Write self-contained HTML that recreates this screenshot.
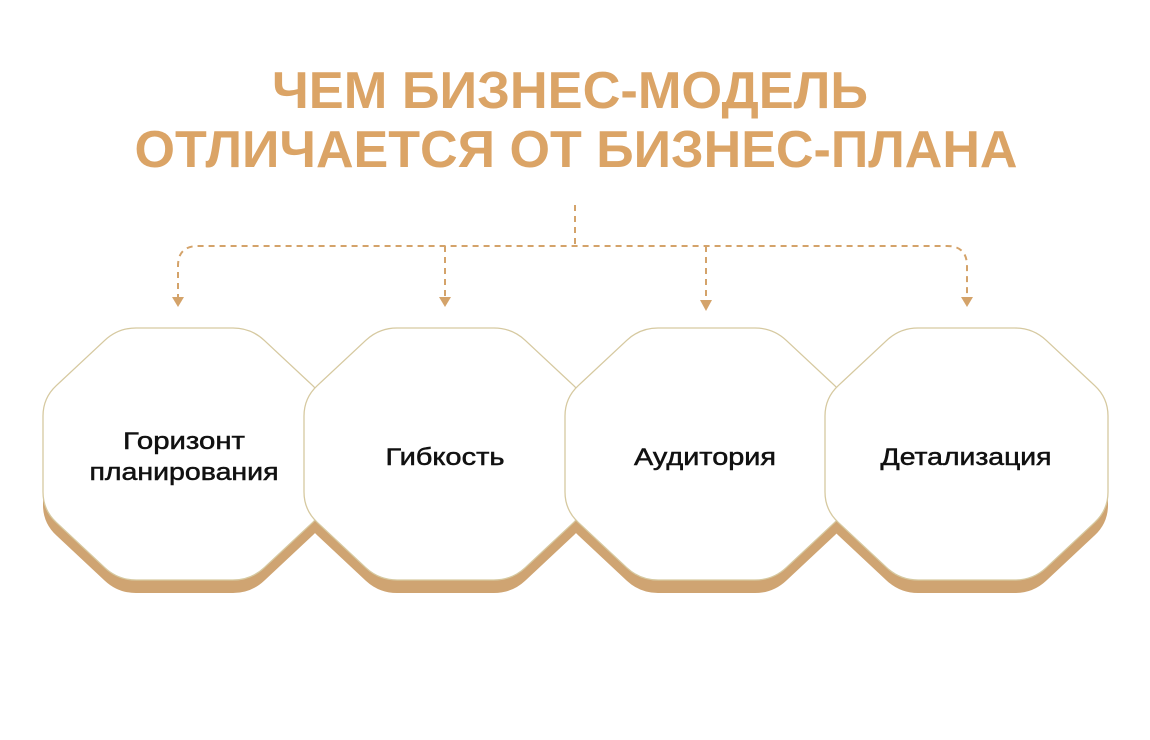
<!DOCTYPE html>
<html><head><meta charset="utf-8"><style>
html,body{margin:0;padding:0;background:#fff;}
svg{display:block;}
</style></head><body>
<svg width="1150" height="740" viewBox="0 0 1150 740" xmlns="http://www.w3.org/2000/svg">
<defs>
<path id="oct" d="M93,0 L190,0 Q208,0 221.2,12.3 L269.8,57.7 Q283,70 283,88 L283,164 Q283,182 269.8,194.3 L221.2,239.7 Q208,252 190,252 L93,252 Q75,252 61.8,239.7 L13.2,194.3 Q0,182 0,164 L0,88 Q0,70 13.2,57.7 L61.8,12.3 Q75,0 93,0 Z"/>
</defs>
<g font-family="Liberation Sans, sans-serif" font-weight="bold" fill="#dba466" text-anchor="middle">
<text x="570" y="108" font-size="52" textLength="596" lengthAdjust="spacingAndGlyphs">ЧЕМ БИЗНЕС-МОДЕЛЬ</text>
<text x="576" y="167" font-size="52" textLength="883" lengthAdjust="spacingAndGlyphs">ОТЛИЧАЕТСЯ ОТ БИЗНЕС-ПЛАНА</text>
</g>
<g fill="none" stroke="#d4a36a" stroke-width="2" stroke-dasharray="6 5">
<path d="M575,205 L575,246"/>
<path d="M178,300 L178,266 Q178,246 198,246 L947,246 Q967,246 967,266 L967,297"/>
<path d="M445,246 L445,298"/>
<path d="M706,246 L706,300"/>
</g>
<g fill="#d4a36a">
<polygon points="172,297 184,297 178,307"/>
<polygon points="439,297 451,297 445,307"/>
<polygon points="700,300 712,300 706,311"/>
<polygon points="961,297 973,297 967,307"/>
</g>
<g fill="#cfa472">
<use href="#oct" transform="translate(43,341)"/>
<use href="#oct" transform="translate(304,341)"/>
<use href="#oct" transform="translate(565,341)"/>
<use href="#oct" transform="translate(825,341)"/>
</g>
<g fill="#fff" stroke="#d6c9a0" stroke-width="1.3">
<use href="#oct" transform="translate(43,328)"/>
<use href="#oct" transform="translate(304,328)"/>
<use href="#oct" transform="translate(565,328)"/>
<use href="#oct" transform="translate(825,328)"/>
</g>
<g font-family="Liberation Sans, sans-serif" font-size="24" fill="#111" stroke="#111" stroke-width="0.5" text-anchor="middle" lengthAdjust="spacingAndGlyphs">
<text x="184" y="449" textLength="122" lengthAdjust="spacingAndGlyphs">Горизонт</text>
<text x="184" y="480" textLength="189" lengthAdjust="spacingAndGlyphs">планирования</text>
<text x="445" y="465" textLength="119" lengthAdjust="spacingAndGlyphs">Гибкость</text>
<text x="705" y="465" textLength="142" lengthAdjust="spacingAndGlyphs">Аудитория</text>
<text x="966" y="465" textLength="171" lengthAdjust="spacingAndGlyphs">Детализация</text>
</g>
</svg>
</body></html>
